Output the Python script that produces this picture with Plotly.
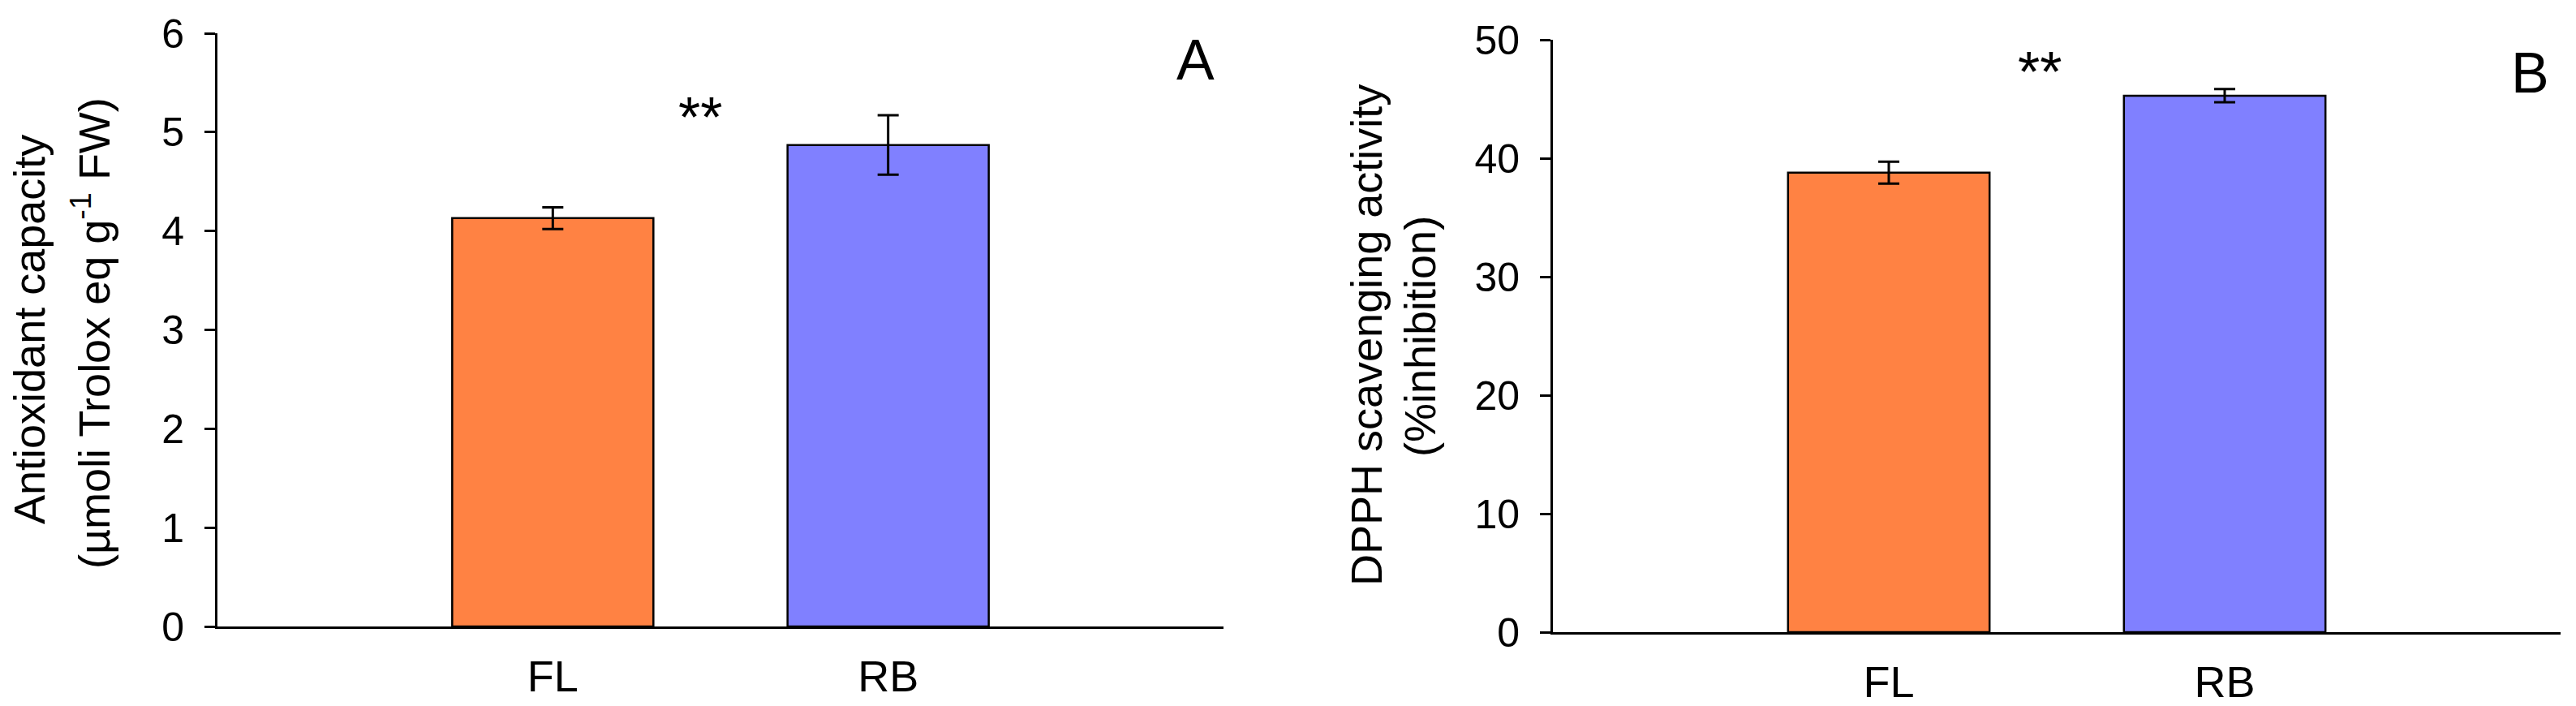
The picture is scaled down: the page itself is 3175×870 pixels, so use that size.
import plotly.graph_objects as go
from plotly.subplots import make_subplots

categories = ["FL", "RB"]
bar_colors = ["#FF8243", "#8080FF"]

# panel A: antioxidant capacity
antiox = [4.13, 4.87]
antiox_err = [0.11, 0.30]

# panel B: DPPH scavenging
dpph = [38.8, 45.3]
dpph_err = [0.93, 0.55]

W, H = 3175, 870
T, B = 41, 91
FONT = "Liberation Sans, Arial, sans-serif"


def px_x(p):
    return p / W


def px_y(p):
    return (H - B - p) / (H - T - B)


fig = make_subplots(rows=1, cols=2)

fig.add_trace(go.Bar(x=categories, y=antiox, width=0.6,
                     marker=dict(color=bar_colors, line=dict(color="black", width=2.5)),
                     error_y=dict(type="data", array=antiox_err, color="black",
                                  thickness=3, width=13)),
              row=1, col=1)
fig.add_trace(go.Bar(x=categories, y=dpph, width=0.6,
                     marker=dict(color=bar_colors, line=dict(color="black", width=2.5)),
                     error_y=dict(type="data", array=dpph_err, color="black",
                                  thickness=3, width=13)),
              row=1, col=2)

xcommon = dict(showline=True, linecolor="black", linewidth=3, ticks="",
               range=[-1, 2], showgrid=False, zeroline=False, automargin=False,
               tickfont=dict(family=FONT, size=54, color="black"),
               ticklabelstandoff=12)
ycommon = dict(showline=True, linecolor="black", linewidth=3, ticks="outside",
               ticklen=13, tickwidth=3, tickcolor="black", showgrid=False,
               zeroline=False, automargin=False,
               tickfont=dict(family=FONT, size=50, color="black"),
               ticklabelstandoff=15)

fig.update_xaxes(xcommon)
fig.update_yaxes(ycommon)
fig.update_layout(
    xaxis=dict(domain=[px_x(268), px_x(1508)]),
    xaxis2=dict(domain=[px_x(1914), px_x(3156)]),
    yaxis=dict(domain=[px_y(772), 1], range=[0, 6], dtick=1),
    yaxis2=dict(domain=[0, px_y(49.3)], range=[0, 50], dtick=10),
)

tfont = dict(family=FONT, size=54, color="black")
notes = [
    # y-axis titles (two lines each)
    dict(x=px_x(36), y=px_y(406), text="Antioxidant capacity"),
    dict(x=px_x(112), y=px_y(411), text="(µmoli Trolox eq g<sup>-1</sup> FW)"),
    dict(x=px_x(1684), y=px_y(413), text="DPPH scavenging activity"),
    dict(x=px_x(1750), y=px_y(415), text="(%inhibition)"),
]
for n in notes:
    fig.add_annotation(xref="paper", yref="paper", showarrow=False, textangle=-90,
                       xanchor="center", yanchor="middle", font=tfont, **n)

star_font = dict(family=FONT, size=70, color="black")
fig.add_annotation(xref="x", yref="y", x=0.44, y=5.15, text="**", showarrow=False,
                   font=star_font)
fig.add_annotation(xref="x2", yref="y2", x=0.45, y=47.3, text="**", showarrow=False,
                   font=star_font)
fig.add_annotation(xref="x", yref="y", x=1.916, y=5.73, text="A", showarrow=False,
                   font=star_font)
fig.add_annotation(xref="x2", yref="y2", x=1.909, y=47.2, text="B", showarrow=False,
                   font=star_font)

fig.update_layout(width=W, height=H, showlegend=False,
                  plot_bgcolor="white", paper_bgcolor="white",
                  margin=dict(l=0, r=0, t=T, b=B))

# drop the default 8px page margin so the figure fills the window exactly
fig.write_html("out.html", config={"displayModeBar": False},
               post_script="document.body.style.margin='0';"
                           "document.body.style.overflow='hidden';")
